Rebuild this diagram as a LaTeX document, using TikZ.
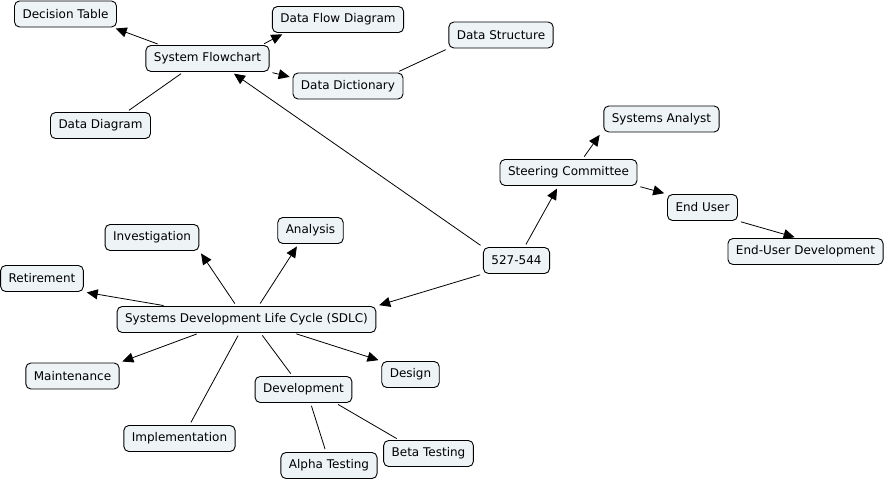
\documentclass[tikz,border=0pt]{standalone}
\usepackage{fontspec}
\setmainfont{DejaVu Sans}
\usetikzlibrary{arrows.meta}
\definecolor{cmapfill}{RGB}{238,243,246}
\begin{document}
\begin{tikzpicture}[x=1pt, y=-1pt,
concept/.style={draw=black, fill=cmapfill, rounded corners=5pt, line width=0.9pt, inner xsep=8pt, minimum height=26pt, font=\fontsize{12}{14}\selectfont},
link/.style={line width=0.8pt, shorten <=3pt, shorten >=3pt},
linkarrow/.style={link, -{Triangle[length=11pt, width=10pt]}},
]
\useasboundingbox (0,0) rectangle (886,481);

%%%%%%%%%%%%%%%%%%%%%%%% SYSTEM FLOWCHART %%%%%%%%%%%%%%%%%%%%%%%%
\node[concept] (DecisionTable) at (65.5,14) {Decision Table};
\node[concept] (DataFlowDiagram) at (338,19.5) {Data Flow Diagram};
\node[concept] (SystemFlowchart) at (207.5,58.5) {System Flowchart};
\node[concept] (DataDictionary) at (348,86) {Data Dictionary};
\node[concept] (DataStructure) at (501,35) {Data Structure};
\node[concept] (DataDiagram) at (100.5,125.5) {Data Diagram};

%%%%%%%%%%%%%%%%%%%%%%%% STEERING COMMITTEE %%%%%%%%%%%%%%%%%%%%%%%%
\node[concept] (SystemsAnalyst) at (661.5,119) {Systems Analyst};
\node[concept] (SteeringCommittee) at (568.5,172.5) {Steering Committee};
\node[concept] (EndUser) at (702.5,207.5) {End User};
\node[concept] (EndUserDev) at (805.5,251.5) {End-User Development};
\node[concept] (Pages) at (516.5,260.5) {527-544};

%%%%%%%%%%%%%%%%%%%%%%%% SDLC %%%%%%%%%%%%%%%%%%%%%%%%
\node[concept] (Investigation) at (152,237.5) {Investigation};
\node[concept] (Analysis) at (310.5,230.5) {Analysis};
\node[concept] (Retirement) at (42,278.5) {Retirement};
\node[concept] (SDLC) at (246.5,319.5) {Systems Development Life Cycle (SDLC)};
\node[concept] (Maintenance) at (72.5,376) {Maintenance};
\node[concept] (Design) at (410.5,374.5) {Design};
\node[concept] (Development) at (303.5,389.5) {Development};
\node[concept] (Implementation) at (179.5,438.5) {Implementation};
\node[concept] (AlphaTesting) at (329,465.5) {Alpha Testing};
\node[concept] (BetaTesting) at (428.5,453.5) {Beta Testing};

%%%%%%%%%%%%%%%%%%%%%%%% LINKS %%%%%%%%%%%%%%%%%%%%%%%%
\draw[linkarrow] ([xshift=-47pt]SystemFlowchart.north)--([xshift=-4pt]DecisionTable.south east);
\draw[linkarrow] ([xshift=54pt]SystemFlowchart.north)--([xshift=13pt]DataFlowDiagram.south west);
\draw[linkarrow] (SystemFlowchart.south east)--([yshift=-5pt]DataDictionary.north west);
\draw[link] ([xshift=-7pt]DataDictionary.north east)--(DataStructure.south west);
\draw[link] ([xshift=-24pt]SystemFlowchart.south)--([xshift=26pt]DataDiagram.north);
\draw[linkarrow] (Pages.north west)--([xshift=24pt]SystemFlowchart.south);
\draw[linkarrow] ([xshift=8pt]Pages.north)--([xshift=-10pt]SteeringCommittee.south);
\draw[linkarrow] ([xshift=14pt]SteeringCommittee.north)--([xshift=-2pt]SystemsAnalyst.south west);
\draw[linkarrow] (SteeringCommittee.south east)--(EndUser.north west);
\draw[linkarrow] (EndUser.south east)--([xshift=-8pt]EndUserDev.north);
\draw[linkarrow] (Pages.south west)--(SDLC.north east);
\draw[linkarrow] ([xshift=-10pt]SDLC.north)--(Investigation.south east);
\draw[linkarrow] ([xshift=12pt]SDLC.north)--([xshift=-12pt]Analysis.south);
\draw[linkarrow] ([xshift=-80pt]SDLC.north)--(Retirement.south east);
\draw[linkarrow] ([xshift=-47pt]SDLC.south)--(Maintenance.north east);
\draw[linkarrow] ([xshift=47pt]SDLC.south)--(Design.north west);
\draw[link] ([xshift=14pt]SDLC.south)--([xshift=-11pt]Development.north);
\draw[link] ([xshift=-7pt]SDLC.south)--([xshift=10pt]Implementation.north);
\draw[link] ([xshift=7pt]Development.south)--([xshift=-3pt]AlphaTesting.north);
\draw[link] ([xshift=32pt]Development.south)--([xshift=16pt]BetaTesting.north west);
\end{tikzpicture}
\end{document}
